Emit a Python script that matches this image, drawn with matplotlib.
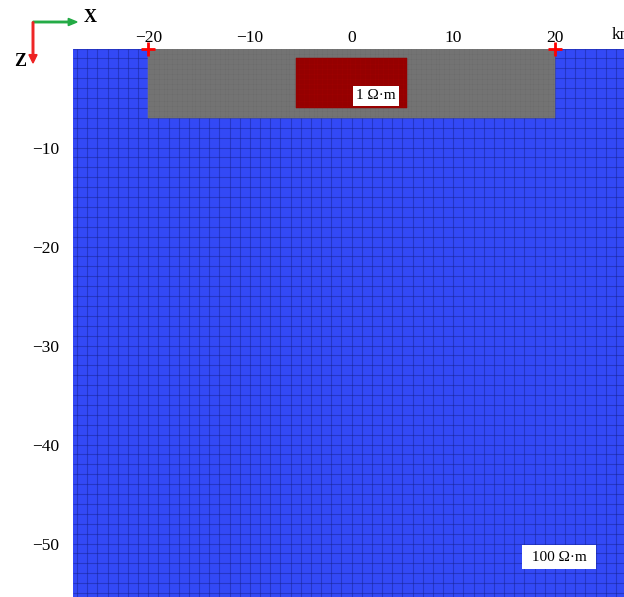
import numpy as np
import matplotlib
matplotlib.use("Agg")
import matplotlib.pyplot as plt
from matplotlib.patches import Rectangle

plt.rcParams['font.family'] = ['Liberation Serif', 'DejaVu Serif']
plt.rcParams['axes.unicode_minus'] = True

# --- data ---
x_ticks = [-20, -10, 0, 10, 20]
y_ticks = [-10, -20, -30, -40, -50]
domain_x = [-27.4, 26.8]
domain_z = [-55.4, 0.0]
layer_x = [-20, 20]          # grey (fine-mesh) region
layer_z = [-7, 0]
anomaly_x = [-5.5, 5.5]      # 1 ohm-m body
anomaly_z = [-6, -1]
stations_x = [-20, 20]
labels = ["1 Ω·m", " 100 Ω·m "]
label_pos = [(2.4, -4.75), (20.4, -51.4)]
label_pads = [2.5, 4]

blue = '#3349f6'
grey = '#6c6c6c'
red = '#9e0000'

fig = plt.figure(figsize=(6.24, 5.97), dpi=100)
ax = fig.add_axes([73/624, 0, 1 - 73/624, (597 - 48.5)/597])
ax.set_xlim(domain_x)
ax.set_ylim(domain_z)
for s in ax.spines.values():
    s.set_visible(False)

# background
ax.add_patch(Rectangle((domain_x[0], domain_z[0]), domain_x[1]-domain_x[0],
                       domain_z[1]-domain_z[0], facecolor=blue, edgecolor='none', zorder=0))
# coarse mesh
gx = np.arange(-27, 27.01, 1.0)
gz = np.arange(-55, 0.01, 1.0)
ax.vlines(gx, domain_z[0], domain_z[1], colors='#15208a', lw=0.8, alpha=0.45, zorder=1)
ax.hlines(gz, domain_x[0], domain_x[1], colors='#15208a', lw=0.8, alpha=0.45, zorder=1)

# grey fine-mesh layer
ax.add_patch(Rectangle((layer_x[0], layer_z[0]), layer_x[1]-layer_x[0],
                       layer_z[1]-layer_z[0], facecolor=grey, edgecolor='none', zorder=2))
fx = np.arange(layer_x[0], layer_x[1] + 0.01, 0.25)
fz = np.arange(layer_z[0], layer_z[1] + 0.01, 0.25)
ax.vlines(fx, layer_z[0], layer_z[1], colors='#7e7e7e', lw=0.35, zorder=3)
ax.hlines(fz, layer_x[0], layer_x[1], colors='#7e7e7e', lw=0.35, zorder=3)

# anomaly
ax.add_patch(Rectangle((anomaly_x[0], anomaly_z[0]), anomaly_x[1]-anomaly_x[0],
                       anomaly_z[1]-anomaly_z[0], facecolor=red, edgecolor='none', zorder=4))
ax_ = np.arange(anomaly_x[0], anomaly_x[1] + 0.01, 0.25)
az_ = np.arange(anomaly_z[0], anomaly_z[1] + 0.01, 0.25)
ax.vlines(ax_, anomaly_z[0], anomaly_z[1], colors='#8a0000', lw=0.35, zorder=5)
ax.hlines(az_, anomaly_x[0], anomaly_x[1], colors='#8a0000', lw=0.35, zorder=5)

# stations
ax.plot(stations_x, [-0.1]*len(stations_x), '+', color='red', ms=10, mew=2,
        zorder=6, clip_on=False)

# labels
for t, (x, z), p in zip(labels, label_pos, label_pads):
    ax.text(x, z, t, fontsize=11, ha='center', va='center', zorder=7,
            bbox=dict(facecolor='white', edgecolor='none', pad=p))

# ticks
ax.xaxis.tick_top()
ax.set_xticks(x_ticks)
ax.set_xticklabels([f"{v}".replace('-', '\u2212') for v in x_ticks])
ax.set_yticks(y_ticks)
ax.set_yticklabels([f"{v}".replace('-', '\u2212') for v in y_ticks])
ax.tick_params(axis='both', length=0, labelsize=12.5)
ax.tick_params(axis='x', pad=2)
ax.tick_params(axis='y', pad=10)
ax.text(25.6, 0.55, "km", fontsize=12.5, ha='left', va='bottom', clip_on=False)

# orientation arrows
fig.patches.append(matplotlib.patches.FancyArrow(33/624, 1-22/597, 44/624, 0, width=0.0025,
                   head_width=0.012, head_length=0.014, length_includes_head=True,
                   color='#22aa44', transform=fig.transFigure))
fig.patches.append(matplotlib.patches.FancyArrow(33/624, 1-22/597, 0, -41/597, width=0.0025,
                   head_width=0.013, head_length=0.014, length_includes_head=True,
                   color='#ee2222', transform=fig.transFigure))
fig.text(90/624, 1-18/597, "X", fontsize=13, fontweight='bold', ha='center', va='center')
fig.text(20/624, 1-61/597, "Z", fontsize=13, fontweight='bold', ha='center', va='center')

fig.savefig("out.png", dpi=100)
